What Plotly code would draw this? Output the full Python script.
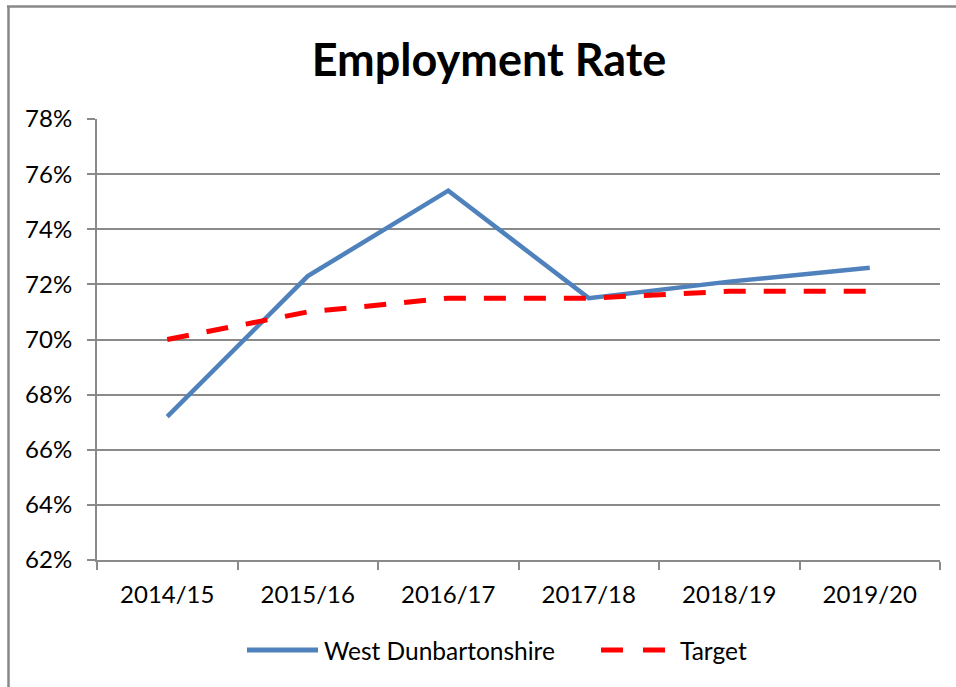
import plotly.graph_objects as go

years = ["2014/15", "2015/16", "2016/17", "2017/18", "2018/19", "2019/20"]
west_dunbartonshire = [67.2, 72.3, 75.4, 71.5, 72.1, 72.6]
target = [70.0, 71.0, 71.5, 71.5, 71.75, 71.75]
y_ticks = [62, 64, 66, 68, 70, 72, 74, 76, 78]
y_tick_labels = [f"{v}%" for v in y_ticks]

FONT = "Lato, Carlito, 'Open Sans', sans-serif"
GRID = "#8a8a8a"
BLUE = "#4F81BD"
RED = "#FF0000"

W, H = 956, 687
L, R, T, B = 97, 940, 119, 560


def px(x):
    return (x - L) / (R - L)


def py(y):
    return (B - y) / (B - T)


fig = go.Figure()
fig.add_trace(go.Scatter(x=years, y=west_dunbartonshire, mode="lines",
                         name="West Dunbartonshire",
                         line=dict(color=BLUE, width=4.5)))
fig.add_trace(go.Scatter(x=years, y=target, mode="lines", name="Target",
                         line=dict(color=RED, width=5, dash="22px,18px")))

shapes = [
    # outer chart border (left and top visible)
    dict(type="line", xref="paper", yref="paper", x0=px(8.5), x1=px(8.5),
         y0=py(700), y1=py(6), line=dict(color="#888888", width=2.5)),
    dict(type="line", xref="paper", yref="paper", x0=px(7), x1=px(970),
         y0=py(6.5), y1=py(6.5), line=dict(color="#888888", width=2.5)),
    # legend symbols
    dict(type="line", xref="paper", yref="paper", x0=px(247), x1=px(318),
         y0=py(650), y1=py(650), line=dict(color=BLUE, width=5)),
    dict(type="line", xref="paper", yref="paper", x0=px(601), x1=px(665),
         y0=py(650), y1=py(650), line=dict(color=RED, width=5, dash="22px,20px")),
]

annotations = [
    dict(text="West Dunbartonshire", xref="paper", yref="paper",
         x=px(322), y=py(650), xanchor="left", yanchor="middle",
         showarrow=False, font=dict(family=FONT, size=24.5, color="black")),
    dict(text="Target", xref="paper", yref="paper",
         x=px(678), y=py(650), xanchor="left", yanchor="middle",
         showarrow=False, font=dict(family=FONT, size=24.5, color="black")),
]

fig.update_layout(
    width=W, height=H,
    margin=dict(l=L, r=W - R, t=T, b=H - B, pad=0),
    paper_bgcolor="white", plot_bgcolor="white",
    showlegend=False,
    title=dict(text="<b>Employment Rate</b>", x=489 / W, xanchor="center",
               y=1 - 60 / H, yanchor="middle", yref="container",
               font=dict(family=FONT, size=45, color="black")),
    font=dict(family=FONT, size=24, color="black"),
    shapes=shapes,
    annotations=annotations,
)

fig.update_xaxes(
    type="category", range=[-0.5, 5.5],
    showgrid=False, showline=True, linecolor=GRID, linewidth=2,
    ticks="outside", tickson="boundaries", ticklen=8, tickwidth=2,
    tickcolor=GRID, ticklabelstandoff=12,
    tickfont=dict(family=FONT, size=24, color="black"),
)
fig.update_yaxes(
    range=[62, 78], tickmode="array", tickvals=y_ticks, ticktext=y_tick_labels,
    showgrid=True, gridcolor=GRID, gridwidth=2,
    showline=True, linecolor=GRID, linewidth=2,
    ticks="outside", ticklen=8, tickwidth=2, tickcolor=GRID,
    ticklabelstandoff=10, zeroline=False,
    tickfont=dict(family=FONT, size=24, color="black"),
)

fig.write_html("out.html")
